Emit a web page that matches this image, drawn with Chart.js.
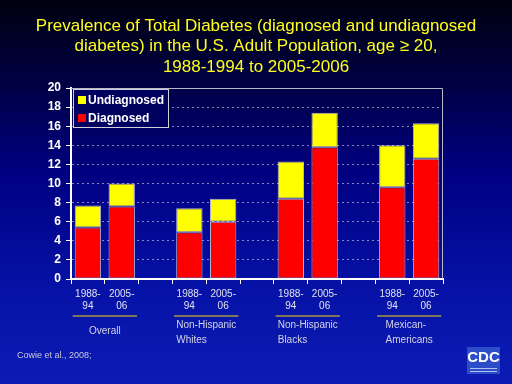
<!DOCTYPE html>
<html>
<head>
<meta charset="utf-8">
<script src="https://cdn.jsdelivr.net/npm/chart.js@4.4.0/dist/chart.umd.min.js"></script>
<style>
  html, body { margin: 0; padding: 0; }
  body {
    width: 512px; height: 384px; overflow: hidden;
    background: linear-gradient(to bottom, #00000e 0%, #000045 22%, #000082 45%, #0612a6 75%, #0c1cb4 100%);
  }
  #wrap { position: relative; width: 512px; height: 384px; }
</style>
</head>
<body>
<div id="wrap"><canvas id="diabetesChart" width="512" height="384"></canvas></div>
<script>
// Bars with a blank slot between each group
const periods = [["1988-", "94"], ["2005-", "06"], "", ["1988-", "94"], ["2005-", "06"], "", ["1988-", "94"], ["2005-", "06"], "", ["1988-", "94"], ["2005-", "06"]];
const diagnosed = [5.4, 7.6, null, 4.9, 6.0, null, 8.4, 13.8, null, 9.6, 12.6];
const undiagnosed = [2.3, 2.4, null, 2.5, 2.4, null, 3.9, 3.6, null, 4.4, 3.7];
const groups = [["Overall"], ["Non-Hispanic", "Whites"], ["Non-Hispanic", "Blacks"], ["Mexican-", "Americans"]];
const groupSlots = [[0, 1], [3, 4], [6, 7], [9, 10]];
const titleLines = [
    "Prevalence of Total Diabetes (diagnosed and undiagnosed",
    "diabetes) in the U.S. Adult Population, age \u2265 20,",
    "1988-1994 to 2005-2006"
];
const source = "Cowie et al., 2008;";

const FONT = "'Liberation Sans', Arial, sans-serif";

const slideDecor = {
    id: 'slideDecor',
    beforeDatasetsDraw(chart) {
        const { ctx, chartArea: a } = chart;
        // grey frame on top and right
        ctx.save();
        ctx.strokeStyle = '#b8b8c8';
        ctx.lineWidth = 1;
        ctx.beginPath();
        ctx.moveTo(a.left, a.top + 0.5);
        ctx.lineTo(a.right - 0.5, a.top + 0.5);
        ctx.lineTo(a.right - 0.5, a.bottom);
        ctx.stroke();
        ctx.restore();
    },
    afterDraw(chart) {
        const { ctx, chartArea: a, scales } = chart;
        ctx.save();

        // title
        ctx.fillStyle = '#ffff1a';
        ctx.font = '17px ' + FONT;
        ctx.textAlign = 'center';
        ctx.textBaseline = 'middle';
        titleLines.forEach((t, i) => ctx.fillText(t, 256, 26 + i * 20.5));

        // legend inside the plot, top left
        const ds = chart.data.datasets.slice().reverse();
        ctx.fillStyle = '#000060';
        ctx.fillRect(a.left + 2, a.top + 1, 95, 38);
        ctx.strokeStyle = '#d0d0d8';
        ctx.lineWidth = 1;
        ctx.strokeRect(a.left + 2.5, a.top + 1.5, 95, 38);
        ctx.font = 'bold 12px ' + FONT;
        ctx.textAlign = 'left';
        ds.forEach((d, i) => {
            const y = a.top + 12 + i * 18;
            ctx.fillStyle = d.backgroundColor;
            ctx.fillRect(a.left + 7, y - 4, 8, 8);
            ctx.fillStyle = '#ffffff';
            ctx.fillText(d.label, a.left + 17, y + 1);
        });

        // group underlines and names
        const x = scales.x;
        const half = x.width / x.ticks.length * 0.9 / 2;
        ctx.font = '10px ' + FONT;
        groups.forEach((g, i) => {
            const x0 = x.getPixelForValue(groupSlots[i][0]) - half;
            const x1 = x.getPixelForValue(groupSlots[i][1]) + half;
            ctx.strokeStyle = '#a89a3c';
            ctx.lineWidth = 1.5;
            ctx.beginPath();
            ctx.moveTo(x0, 316);
            ctx.lineTo(x1, 316);
            ctx.stroke();
            const w = Math.max(...g.map(s => ctx.measureText(s).width));
            const left = (x0 + x1) / 2 - w / 2;
            ctx.fillStyle = '#d4d4e4';
            g.forEach((s, j) => {
                const yy = g.length === 1 ? 331 : 325 + j * 15;
                ctx.fillText(s, left, yy);
            });
        });

        // source
        ctx.font = '9px ' + FONT;
        ctx.fillStyle = '#c8c8dc';
        ctx.fillText(source, 17, 356);

        // CDC mark
        ctx.fillStyle = '#2c4cc8';
        ctx.fillRect(467, 347, 33, 27);
        ctx.fillStyle = '#ffffff';
        ctx.font = 'bold 15px ' + FONT;
        ctx.textAlign = 'center';
        ctx.fillText('CDC', 483.5, 358);
        ctx.fillStyle = '#b0c0f0';
        ctx.fillRect(470, 368, 27, 1);
        ctx.fillRect(470, 371, 27, 1);
        ctx.restore();
    }
};

const ctx = document.getElementById('diabetesChart').getContext('2d');
const chart = new Chart(ctx, {
    type: 'bar',
    data: {
        labels: periods,
        datasets: [{
            label: 'Diagnosed',
            data: diagnosed,
            backgroundColor: '#ff0000',
            borderColor: 'rgba(235,235,235,0.75)',
            borderWidth: 1,
            borderSkipped: false,
            barPercentage: 0.78,
            categoryPercentage: 1
        }, {
            label: 'Undiagnosed',
            data: undiagnosed,
            backgroundColor: '#ffff00',
            borderColor: 'rgba(235,235,235,0.75)',
            borderWidth: 1,
            borderSkipped: false,
            barPercentage: 0.78,
            categoryPercentage: 1
        }]
    },
    options: {
        responsive: false,
        animation: false,
        layout: { padding: { left: 0, right: 69, top: 88, bottom: 0 } },
        plugins: {
            legend: { display: false },
            title: { display: false },
            tooltip: { enabled: false }
        },
        scales: {
            x: {
                stacked: true,
                afterFit: (s) => { s.height = 105; },
                border: { color: '#ffffff', width: 2 },
                grid: { drawOnChartArea: false, tickLength: 5, tickColor: '#ffffff', offset: true },
                ticks: {
                    color: '#e2e2ee',
                    font: { family: FONT, size: 10, lineHeight: 1.2 },
                    padding: 4,
                    maxRotation: 0,
                    autoSkip: false
                }
            },
            y: {
                stacked: true,
                min: 0,
                max: 20,
                afterFit: (s) => { s.width = 71; },
                border: { color: '#ffffff', width: 2, dash: [2, 3] },
                grid: {
                    color: (c) => (c.tick.value === 0 || c.tick.value === 20) ? 'rgba(0,0,0,0)' : 'rgba(190,190,205,0.7)',
                    tickBorderDash: [],
                    tickColor: '#ffffff',
                    tickLength: 5
                },
                ticks: {
                    stepSize: 2,
                    color: '#ffffff',
                    font: { family: FONT, size: 12, weight: 'bold' },
                    padding: 5
                }
            }
        }
    },
    plugins: [slideDecor]
});
</script>
</body>
</html>
